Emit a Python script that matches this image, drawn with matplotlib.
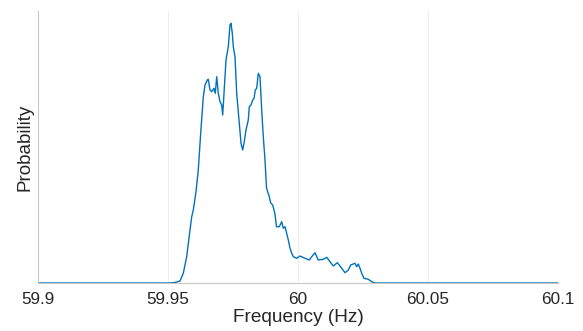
import matplotlib
matplotlib.use("Agg")
import matplotlib.pyplot as plt

freq = [59.9, 59.95077, 59.95269, 59.95462, 59.95588, 59.95719, 59.95846, 59.95912, 59.95973,
        59.96077, 59.96165, 59.96258, 59.96358, 59.96423, 59.96512, 59.96550, 59.96615, 59.96681,
        59.96769, 59.96819, 59.96873, 59.96935, 59.97000, 59.97065, 59.97104, 59.97154, 59.97231,
        59.97319, 59.97385, 59.97423, 59.97473, 59.97512, 59.97577, 59.97642, 59.97731, 59.97808,
        59.97873, 59.97923, 59.98000, 59.98088, 59.98127, 59.98192, 59.98258, 59.98308, 59.98358,
        59.98412, 59.98473, 59.98538, 59.98604, 59.98665, 59.98731, 59.98788, 59.98896, 59.98950,
        59.99027, 59.99115, 59.99173, 59.99281, 59.99373, 59.99435, 59.99500, 59.99627, 59.99692,
        59.99758, 59.99819, 59.99950, 60.00077, 60.00269, 60.00435, 60.00527, 60.00654, 60.00781,
        60.00973, 60.01104, 60.01231, 60.01358, 60.01512, 60.01615, 60.01808, 60.01935, 60.02027,
        60.02192, 60.02258, 60.02319, 60.02385, 60.02450, 60.02538, 60.02704, 60.02835, 60.02962,
        60.1]
prob = [0, 0, 0.5, 2, 9.7, 26.3, 53, 66.3, 73,
        91.3, 113, 150, 186.3, 198, 203, 203.7, 193, 191.3,
        194.7, 189.7, 206.3, 189.7, 181.3, 178, 168, 189.7, 223,
        236.3, 258, 259.7, 249.7, 236.3, 226.3, 189.7, 163, 139.7,
        133, 139.7, 153, 163, 176.3, 178, 183, 184.7, 193,
        194.7, 209.7, 206.3, 173, 146.3, 123, 95, 86.3, 80,
        78, 69, 56.3, 56.3, 61.3, 54.7, 56.3, 43, 35,
        29.7, 26.3, 24.7, 27, 24.7, 23, 26.3, 30.3, 23,
        23.7, 25.7, 21.3, 17, 20.3, 17, 10.3, 13, 18,
        19.7, 16.3, 19, 14.7, 9.7, 4.7, 3.7, 1.3, 0,
        0]

xticks = [59.9, 59.95, 60.0, 60.05, 60.1]
xticklabels = ["59.9", "59.95", "60", "60.05", "60.1"]

plt.rcParams['font.family'] = ['Liberation Sans', 'DejaVu Sans']

fig = plt.figure(figsize=(5.83, 3.31), dpi=100)
ax = fig.add_axes([38/583, 1 - 283/331, 520/583, 272/331])
ax.plot(freq, prob, color='#0072BD', linewidth=1.0)
ax.set_xlim(59.9, 60.1)
ax.set_ylim(0, 272)
ax.set_xticks(xticks)
ax.set_xticklabels(xticklabels, fontsize=12.3, color='#262626')
ax.set_yticks([])
ax.tick_params(axis='x', length=0, pad=6.5)
ax.grid(axis='x', color='#eeeeee', linewidth=0.8)
ax.set_axisbelow(True)
for s in ['top', 'right']:
    ax.spines[s].set_visible(False)
for s in ['left', 'bottom']:
    ax.spines[s].set_color('#c8c8c8')
    ax.spines[s].set_linewidth(0.8)
ax.set_xlabel('Frequency (Hz)', fontsize=13.7, color='#262626', labelpad=1.5)
ax.set_ylabel('Probability', fontsize=13.5, color='#262626', labelpad=3.5)
fig.savefig('out.png', dpi=100)
